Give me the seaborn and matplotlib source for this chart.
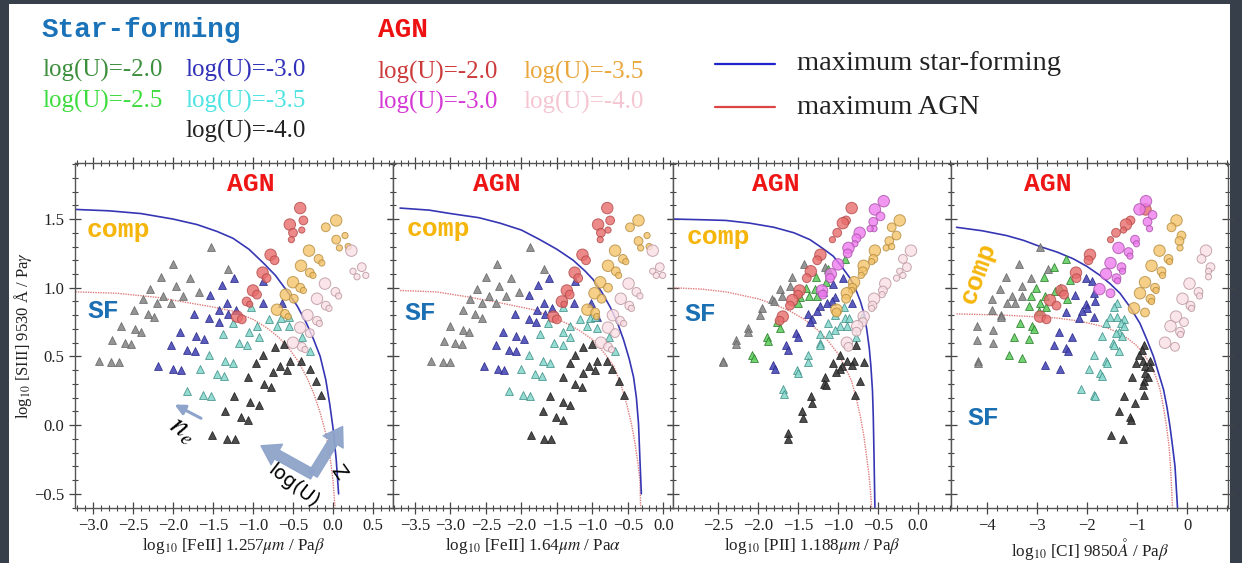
import matplotlib
matplotlib.use('Agg')
import matplotlib.pyplot as plt
import seaborn as sns
import pandas as pd
from matplotlib.patches import Rectangle
from matplotlib.lines import Line2D
from matplotlib.ticker import MultipleLocator

# ---------------- panel 1: [FeII] 1.257um / Pa beta ----------------
p1_grey_x = [-1.53, -2.00, -1.31, -2.15, -1.79, -2.29, -1.96, -2.37, -2.12, -1.87, -1.68, -2.20, -2.03,
             -2.49, -2.31, -2.24, -2.65, -2.48, -2.40, -2.76, -2.60, -2.52, -2.93, -2.78, -2.68]
p1_grey_y = [1.30, 1.17, 1.14, 1.08, 1.07, 0.99, 1.01, 0.92, 0.94, 0.94, 0.97, 0.89, 0.89,
             0.84, 0.81, 0.79, 0.72, 0.70, 0.68, 0.62, 0.60, 0.59, 0.47, 0.46, 0.46]
p1_blue_x = [-1.24, -1.39, -0.87, -1.54, -1.33, -1.42, -1.21, -1.31, -0.88, -0.64, -1.74, -1.55, -1.43,
             -1.91, -1.71, -1.61, -2.02, -1.83, -1.73, -2.19, -2.00, -1.90]
p1_blue_y = [1.07, 1.02, 1.05, 0.95, 0.89, 0.84, 0.84, 0.81, 0.89, 0.89, 0.81, 0.78, 0.75,
             0.68, 0.65, 0.63, 0.58, 0.55, 0.54, 0.43, 0.41, 0.40]
p1_cyan_x = [-1.03, -0.80, -0.65, -0.55, -0.95, -0.70, -0.55, -1.25, -1.05, -0.93, -1.37, -1.17, -1.07,
             -0.39, -1.55, -1.35, -1.25, -1.66, -1.45, -1.36, -1.82, -1.63, -1.53, -0.29]
p1_cyan_y = [0.86, 0.77, 0.78, 0.79, 0.72, 0.72, 0.72, 0.74, 0.68, 0.64, 0.66, 0.60, 0.58,
             0.64, 0.51, 0.47, 0.45, 0.41, 0.37, 0.36, 0.25, 0.22, 0.21, 0.54]
p1_black_x = [-0.61, -0.73, -0.88, -0.54, -0.40, -0.29, -0.66, -0.96, -0.75, -0.58, -1.06, -0.86, -0.77,
              -0.21, -0.15, -1.24, -1.04, -0.93, -1.35, -1.15, -1.06, -1.51, -1.32, -1.23]
p1_black_y = [0.59, 0.57, 0.51, 0.47, 0.47, 0.41, 0.43, 0.45, 0.39, 0.40, 0.35, 0.30, 0.28,
              0.32, 0.22, 0.21, 0.17, 0.15, 0.10, 0.06, 0.04, -0.07, -0.10, -0.10]
p1_red_x = [-0.41, -0.37, -0.54, -0.50, -0.39, -0.52, -0.78, -0.73, -0.88, -0.83, -1.00, -0.95, -1.08, -1.04, -1.20, -1.14]
p1_red_y = [1.58, 1.49, 1.46, 1.40, 1.42, 1.35, 1.24, 1.20, 1.11, 1.07, 0.98, 0.95, 0.90, 0.88, 0.79, 0.77]
p1_red_s = [3, 2, 3, 2, 1, 1, 3, 2, 3, 2, 3, 2, 2, 1, 3, 2]
p1_orange_x = [0.04, -0.09, 0.04, 0.15, 0.08, 0.19, -0.30, -0.18, -0.14, -0.40, -0.29, -0.25, -0.50, -0.41,
               -0.37, -0.59, -0.49, -0.70, -0.60, -0.56]
p1_orange_y = [1.49, 1.44, 1.35, 1.38, 1.29, 1.30, 1.27, 1.21, 1.18, 1.16, 1.11, 1.09, 1.04, 1.00,
               0.98, 0.95, 0.92, 0.84, 0.81, 0.79]
p1_orange_s = [3, 2, 2, 1, 1, 1, 3, 2, 1, 3, 2, 1, 3, 2, 1, 3, 2, 3, 2, 1]
p1_pink_x = [0.23, 0.36, 0.25, 0.30, 0.41, -0.10, 0.03, 0.07, -0.20, -0.09, -0.05, -0.32, -0.20, -0.17,
             -0.41, -0.29, -0.50, -0.39, -0.35]
p1_pink_y = [1.27, 1.15, 1.12, 1.08, 1.09, 1.03, 0.97, 0.94, 0.92, 0.87, 0.85, 0.80, 0.76, 0.74,
             0.71, 0.67, 0.60, 0.57, 0.55]
p1_pink_s = [3, 2, 1, 1, 1, 3, 2, 1, 3, 2, 1, 3, 2, 1, 3, 2, 3, 2, 1]
p1_sf_x = [-3.22, -2.8, -2.4, -2.0, -1.7, -1.45, -1.25, -1.05, -0.87, -0.72, -0.58, -0.45, -0.33, -0.24,
           -0.16, -0.09, -0.04, 0.0, 0.04, 0.07]
p1_sf_y = [1.57, 1.56, 1.54, 1.50, 1.46, 1.41, 1.36, 1.28, 1.18, 1.09, 0.98, 0.87, 0.74, 0.62,
           0.50, 0.33, 0.15, -0.02, -0.25, -0.50]
p1_agn_x = [-3.22, -2.7, -2.2, -1.8, -1.5, -1.25, -1.0, -0.83, -0.68, -0.54, -0.43, -0.33, -0.24, -0.16,
            -0.09, -0.04, 0.0, 0.025]
p1_agn_y = [0.97, 0.96, 0.93, 0.89, 0.86, 0.83, 0.77, 0.71, 0.64, 0.55, 0.46, 0.35, 0.23, 0.09,
            -0.06, -0.22, -0.40, -0.60]

# ---------------- panel 2: [FeII] 1.64um / Pa alpha ----------------
p2_grey_x = [-1.88, -2.35, -1.68, -2.50, -2.15, -2.63, -2.32, -2.72, -2.46, -2.22, -2.04, -2.55, -2.36,
             -2.83, -2.65, -2.56, -3.00, -2.83, -2.74, -3.09, -2.93, -2.84, -3.27, -3.10, -3.01]
p2_grey_y = [1.30, 1.17, 1.14, 1.08, 1.07, 0.99, 1.01, 0.92, 0.94, 0.94, 0.97, 0.89, 0.89,
             0.84, 0.81, 0.78, 0.72, 0.69, 0.68, 0.61, 0.60, 0.59, 0.47, 0.46, 0.46]
p2_blue_x = [-1.61, -1.76, -1.24, -1.89, -1.68, -1.78, -1.57, -1.67, -1.26, -1.02, -2.09, -1.89, -1.79,
             -2.26, -2.07, -1.96, -2.36, -2.18, -2.08, -2.53, -2.33, -2.24, -0.94]
p2_blue_y = [1.07, 1.02, 1.05, 0.95, 0.89, 0.84, 0.85, 0.81, 0.89, 0.89, 0.81, 0.77, 0.75,
             0.68, 0.65, 0.63, 0.58, 0.55, 0.54, 0.43, 0.41, 0.40, 0.79]
p2_cyan_x = [-1.41, -1.18, -1.04, -0.96, -1.32, -1.07, -0.93, -1.62, -1.41, -1.31, -1.74, -1.54, -1.42,
             -0.76, -1.90, -1.69, -1.60, -2.01, -1.81, -1.71, -2.17, -1.98, -1.88, -0.68]
p2_cyan_y = [0.86, 0.77, 0.78, 0.79, 0.72, 0.72, 0.71, 0.74, 0.68, 0.64, 0.66, 0.60, 0.58,
             0.64, 0.51, 0.47, 0.45, 0.41, 0.37, 0.36, 0.25, 0.22, 0.21, 0.54]
p2_black_x = [-1.00, -1.13, -1.25, -0.93, -0.79, -0.62, -1.05, -1.32, -1.13, -0.96, -0.72, -1.42, -1.24,
              -1.15, -0.55, -1.60, -1.41, -1.31, -1.70, -1.51, -1.42, -1.87, -1.68, -1.59]
p2_black_y = [0.59, 0.57, 0.51, 0.47, 0.47, 0.32, 0.43, 0.45, 0.38, 0.40, 0.41, 0.35, 0.30,
              0.28, 0.22, 0.21, 0.17, 0.15, 0.10, 0.06, 0.04, -0.07, -0.10, -0.10]
p2_red_x = [-0.79, -0.75, -0.92, -0.88, -0.78, -0.89, -1.14, -1.09, -1.25, -1.20, -1.36, -1.32, -1.43, -1.40, -1.55, -1.50]
p2_red_y = [1.58, 1.49, 1.46, 1.40, 1.42, 1.35, 1.24, 1.20, 1.11, 1.07, 0.98, 0.95, 0.90, 0.88, 0.79, 0.77]
p2_red_s = [3, 2, 3, 2, 1, 1, 3, 2, 3, 2, 3, 2, 3, 1, 3, 2]
p2_orange_x = [-0.35, -0.47, -0.23, -0.35, -0.32, -0.20, -0.68, -0.57, -0.53, -0.78, -0.67, -0.63, -0.89,
               -0.78, -0.97, -0.87, -1.07, -0.96, -0.94]
p2_orange_y = [1.49, 1.44, 1.38, 1.34, 1.29, 1.30, 1.27, 1.21, 1.19, 1.16, 1.12, 1.09, 1.04,
               1.00, 0.96, 0.92, 0.84, 0.82, 0.79]
p2_orange_s = [3, 2, 1, 2, 1, 1, 3, 2, 1, 3, 2, 1, 3, 2, 3, 2, 3, 2, 1]
p2_pink_x = [-0.15, -0.05, -0.15, -0.10, -0.01, -0.49, -0.38, -0.33, -0.60, -0.48, -0.45, -0.71, -0.61,
             -0.56, -0.78, -0.68, -0.88, -0.78, -0.73]
p2_pink_y = [1.27, 1.15, 1.12, 1.09, 1.09, 1.03, 0.97, 0.94, 0.92, 0.87, 0.85, 0.80, 0.76,
             0.74, 0.71, 0.67, 0.60, 0.57, 0.55]
p2_pink_s = [3, 2, 1, 1, 1, 3, 2, 1, 3, 2, 1, 3, 2, 1, 3, 2, 3, 2, 1]
p2_sf_x = [-3.71, -3.3, -3.0, -2.6, -2.3, -2.0, -1.74, -1.5, -1.27, -1.1, -0.99, -0.87, -0.75, -0.65,
           -0.56, -0.48, -0.42, -0.38, -0.35, -0.33, -0.31]
p2_sf_y = [1.58, 1.565, 1.54, 1.51, 1.47, 1.42, 1.35, 1.28, 1.20, 1.12, 1.06, 0.97, 0.86, 0.75,
           0.62, 0.48, 0.35, 0.20, 0.01, -0.25, -0.50]
p2_agn_x = [-3.71, -3.2, -2.77, -2.3, -1.83, -1.6, -1.36, -1.17, -0.99, -0.84, -0.70, -0.60, -0.52, -0.45,
            -0.40, -0.36, -0.33, -0.32]
p2_agn_y = [0.98, 0.97, 0.935, 0.89, 0.84, 0.795, 0.74, 0.685, 0.62, 0.53, 0.43, 0.30, 0.16, 0.01,
            -0.13, -0.27, -0.40, -0.60]

# ---------------- panel 3: [PII] 1.188um / Pa beta ----------------
p3_grey_x = [-1.43, -1.58, -1.73, -1.60, -1.83, -1.70, -1.80, -1.95, -1.98, -2.13, -2.12, -2.27, -2.27,
             -2.44, -2.43, -1.16]
p3_grey_y = [1.17, 1.08, 0.99, 1.01, 0.92, 0.94, 0.90, 0.85, 0.80, 0.71, 0.68, 0.62, 0.59, 0.47, 0.46, 1.15]
p3_green_x = [-1.28, -1.40, -1.29, -1.15, -1.48, -1.36, -1.26, -1.50, -1.76, -1.73, -1.89, -1.87, -2.07,
              -2.05, -0.91, -1.12]
p3_green_y = [1.08, 1.00, 0.99, 1.04, 0.93, 0.94, 0.94, 0.89, 0.75, 0.71, 0.64, 0.61, 0.51, 0.49, 1.21, 1.14]
p3_blue_x = [-0.94, -1.06, -1.19, -1.04, -1.08, -1.14, -1.22, -1.26, -1.37, -1.33, -1.35, -0.83, -1.53,
             -1.50, -1.65, -1.63, -1.81, -1.79]
p3_blue_y = [1.07, 1.03, 0.97, 0.93, 0.90, 0.89, 0.87, 0.83, 0.81, 0.77, 0.75, 0.89, 0.67,
             0.64, 0.58, 0.55, 0.44, 0.41]
p3_cyan_x = [-0.93, -1.04, -1.12, -0.91, -0.86, -0.98, -0.89, -1.04, -1.11, -1.23, -1.22, -1.23, -1.37,
             -1.38, -1.51, -1.50, -1.69, -1.68, -0.77, -0.70]
p3_cyan_y = [0.86, 0.80, 0.74, 0.78, 0.78, 0.72, 0.72, 0.69, 0.66, 0.66, 0.60, 0.58, 0.51,
             0.46, 0.40, 0.38, 0.26, 0.23, 0.64, 0.79]
p3_black_x = [-0.78, -0.98, -0.89, -0.80, -0.68, -1.06, -0.95, -0.98, -1.03, -1.16, -1.18, -1.15, -0.72,
              -0.79, -1.34, -1.33, -1.45, -1.44, -1.63, -1.62, -0.83]
p3_black_y = [0.58, 0.51, 0.47, 0.47, 0.46, 0.45, 0.43, 0.41, 0.39, 0.35, 0.30, 0.29, 0.32,
              0.22, 0.21, 0.16, 0.10, 0.05, -0.06, -0.10, 0.44]
p3_red_x = [-0.83, -0.90, -0.94, -1.01, -1.07, -1.22, -1.26, -1.34, -1.39, -1.48, -1.50, -1.57, -1.60, -1.69, -1.73]
p3_red_y = [1.58, 1.49, 1.47, 1.40, 1.35, 1.24, 1.20, 1.12, 1.07, 0.98, 0.95, 0.91, 0.87, 0.79, 0.76]
p3_red_s = [3, 2, 3, 2, 1, 3, 2, 3, 2, 3, 2, 3, 2, 3, 2]
p3_mag_x = [-0.43, -0.54, -0.47, -0.56, -0.55, -0.60, -0.73, -0.77, -0.79, -0.87, -0.88, -1.00, -1.09,
            -1.10, -1.20, -1.19]
p3_mag_y = [1.63, 1.57, 1.52, 1.48, 1.43, 1.43, 1.40, 1.36, 1.32, 1.29, 1.25, 1.17, 1.10, 1.07, 0.98, 0.95]
p3_mag_s = [3, 3, 2, 2, 1, 1, 3, 2, 1, 3, 2, 3, 3, 2, 3, 2]
p3_orange_x = [-0.23, -0.33, -0.27, -0.36, -0.40, -0.33, -0.54, -0.56, -0.58, -0.68, -0.69, -0.71, -0.80,
               -0.82, -0.83, -0.89, -0.90, -1.02, -1.02]
p3_orange_y = [1.49, 1.44, 1.38, 1.34, 1.29, 1.30, 1.27, 1.21, 1.19, 1.16, 1.12, 1.09, 1.04,
               1.00, 0.98, 0.96, 0.92, 0.84, 0.82]
p3_orange_s = [3, 2, 2, 2, 1, 1, 3, 2, 1, 3, 2, 1, 3, 2, 1, 3, 2, 3, 2]
p3_pink_x = [-0.09, -0.19, -0.14, -0.23, -0.19, -0.27, -0.41, -0.44, -0.45, -0.55, -0.57, -0.58, -0.68,
             -0.69, -0.76, -0.77, -0.89, -0.87]
p3_pink_y = [1.27, 1.21, 1.15, 1.12, 1.09, 1.07, 1.03, 0.98, 0.95, 0.92, 0.87, 0.85, 0.79,
             0.75, 0.72, 0.68, 0.60, 0.57]
p3_pink_s = [3, 2, 2, 1, 1, 1, 3, 2, 1, 3, 2, 1, 3, 2, 3, 2, 3, 2]
p3_sf_x = [-3.06, -2.7, -2.4, -2.1, -1.8, -1.55, -1.35, -1.2, -1.06, -0.95, -0.85, -0.78, -0.72, -0.67,
           -0.64, -0.61, -0.59, -0.57, -0.56, -0.55, -0.54]
p3_sf_y = [1.50, 1.495, 1.49, 1.47, 1.44, 1.40, 1.35, 1.29, 1.23, 1.15, 1.07, 0.99, 0.90, 0.80,
           0.69, 0.56, 0.43, 0.25, 0.06, -0.25, -0.60]
p3_agn_x = [-3.06, -2.7, -2.4, -2.0, -1.8, -1.6, -1.42, -1.25, -1.12, -1.0, -0.91, -0.83, -0.77, -0.72,
            -0.68, -0.65, -0.62, -0.60, -0.58]
p3_agn_y = [1.00, 0.99, 0.97, 0.92, 0.88, 0.83, 0.77, 0.69, 0.61, 0.52, 0.42, 0.32, 0.19, 0.06,
            -0.07, -0.20, -0.33, -0.45, -0.60]

# ---------------- panel 4: [CI] 9850A / Pa beta ----------------
p4_grey_x = [-2.94, -3.37, -2.79, -3.62, -3.13, -3.74, -3.31, -3.91, -3.51, -3.31, -3.61, -3.44, -3.91,
             -3.73, -4.21, -3.89, -4.21, -3.89, -4.19, -4.19, -3.73]
p4_grey_y = [1.30, 1.17, 1.14, 1.08, 1.07, 0.99, 1.01, 0.92, 0.94, 0.94, 0.89, 0.89, 0.84,
             0.80, 0.72, 0.69, 0.62, 0.60, 0.47, 0.45, 0.79]
p4_green_x = [-2.42, -2.67, -2.86, -2.34, -2.54, -3.02, -2.64, -3.13, -2.84, -2.41, -2.94, -3.17, -2.82,
              -2.97, -3.35, -3.11, -3.07, -3.47, -3.17, -3.57, -3.31]
p4_green_y = [1.21, 1.15, 1.08, 1.06, 1.00, 1.00, 0.98, 0.94, 0.94, 0.92, 0.89, 0.87, 0.86,
              0.83, 0.74, 0.72, 0.70, 0.64, 0.63, 0.51, 0.49]
p4_blue_x = [-2.02, -1.91, -2.24, -1.87, -1.84, -2.02, -2.01, -2.11, -1.87, -2.42, -2.17, -2.57, -2.31,
             -2.67, -2.42, -2.39, -2.84, -2.55]
p4_blue_y = [1.07, 1.05, 0.95, 0.96, 0.90, 0.88, 0.85, 0.83, 0.79, 0.82, 0.78, 0.68, 0.64,
             0.58, 0.56, 0.54, 0.44, 0.41]
p4_cyan_x = [-1.41, -1.46, -1.55, -1.41, -1.27, -1.62, -1.33, -1.26, -1.37, -1.42, -1.31, -1.71, -1.49,
             -1.46, -1.37, -1.87, -1.62, -1.61, -1.97, -1.74, -1.71, -2.13, -1.87, -1.85]
p4_cyan_y = [0.89, 0.86, 0.79, 0.79, 0.77, 0.74, 0.74, 0.72, 0.68, 0.67, 0.65, 0.65, 0.60,
             0.58, 0.54, 0.51, 0.47, 0.45, 0.41, 0.38, 0.36, 0.26, 0.22, 0.21]
p4_black_x = [-0.87, -0.91, -0.97, -0.89, -0.74, -1.02, -0.84, -0.75, -0.84, -0.79, -0.87, -1.11, -0.89,
              -0.87, -1.27, -1.04, -1.37, -1.14, -1.13, -1.53, -1.29]
p4_black_y = [0.58, 0.55, 0.51, 0.47, 0.47, 0.45, 0.43, 0.42, 0.38, 0.35, 0.32, 0.35, 0.29,
              0.22, 0.21, 0.16, 0.10, 0.06, 0.04, -0.07, -0.10]
p4_red_x = [-0.83, -1.13, -1.22, -1.27, -1.42, -1.53, -1.94, -1.97, -2.22, -2.21, -2.51, -2.46, -2.74, -2.61, -2.94, -2.81]
p4_red_y = [1.57, 1.49, 1.46, 1.42, 1.40, 1.35, 1.24, 1.20, 1.11, 1.07, 0.98, 0.95, 0.91, 0.87, 0.79, 0.77]
p4_red_s = [3, 2, 3, 1, 2, 1, 3, 2, 3, 2, 3, 2, 3, 2, 3, 2]
p4_mag_x = [-0.82, -0.95, -0.69, -0.79, -0.75, -1.04, -1.01, -1.37, -1.17, -1.14, -1.53, -1.31, -1.29,
            -1.62, -1.41, -1.39, -1.75, -1.53]
p4_mag_y = [1.63, 1.57, 1.53, 1.48, 1.43, 1.35, 1.32, 1.29, 1.26, 1.23, 1.18, 1.15, 1.12,
            1.10, 1.07, 1.05, 0.99, 0.96]
p4_mag_s = [3, 3, 2, 2, 1, 2, 1, 3, 2, 1, 3, 2, 1, 3, 2, 1, 3, 2]
p4_orange_x = [-0.21, -0.31, -0.11, -0.15, -0.14, -0.55, -0.37, -0.35, -0.71, -0.51, -0.49, -0.84, -0.64,
               -0.62, -0.94, -0.73, -0.71, -1.06, -0.84]
p4_orange_y = [1.49, 1.44, 1.38, 1.34, 1.29, 1.27, 1.21, 1.19, 1.16, 1.12, 1.09, 1.04, 1.00,
               0.98, 0.96, 0.92, 0.90, 0.85, 0.82]
p4_orange_s = [3, 2, 2, 2, 1, 3, 2, 1, 3, 2, 1, 3, 2, 1, 3, 2, 1, 3, 2]
p4_pink_x = [0.38, 0.29, 0.47, 0.43, 0.43, 0.05, 0.23, 0.25, -0.09, 0.07, 0.09, -0.22, -0.06, -0.33,
             -0.14, -0.13, -0.44, -0.24]
p4_pink_y = [1.27, 1.21, 1.15, 1.12, 1.08, 1.03, 0.97, 0.94, 0.92, 0.87, 0.85, 0.79, 0.75, 0.72,
             0.68, 0.66, 0.60, 0.57]
p4_pink_s = [3, 2, 2, 1, 1, 3, 2, 1, 3, 2, 1, 3, 2, 3, 2, 1, 3, 2]
p4_sf_x = [-4.61, -4.1, -3.61, -3.27, -2.94, -2.6, -2.27, -2.0, -1.74, -1.54, -1.34, -1.14, -0.94, -0.80,
           -0.67, -0.57, -0.47, -0.40, -0.34, -0.29, -0.24, -0.19]
p4_sf_y = [1.44, 1.415, 1.38, 1.345, 1.30, 1.26, 1.21, 1.155, 1.09, 1.03, 0.96, 0.86, 0.74, 0.62,
           0.50, 0.38, 0.26, 0.13, -0.01, -0.15, -0.30, -0.60]
p4_agn_x = [-4.61, -3.61, -2.61, -2.2, -1.94, -1.65, -1.41, -1.2, -1.01, -0.87, -0.74, -0.63, -0.54, -0.47,
            -0.41, -0.36, -0.33, -0.29]
p4_agn_y = [0.81, 0.80, 0.78, 0.76, 0.74, 0.715, 0.68, 0.635, 0.58, 0.52, 0.45, 0.36, 0.26, 0.13,
            -0.01, -0.15, -0.30, -0.60]

x_labels = [r'log$_{10}$ [FeII] 1.257$\mu m$ / Pa$\beta$',
            r'log$_{10}$ [FeII] 1.64$\mu m$ / Pa$\alpha$',
            r'log$_{10}$ [PII] 1.188$\mu m$ / Pa$\beta$',
            r'log$_{10}$ [CI] 9850$\AA$ / Pa$\beta$']
y_label = r'log$_{10}$ [SIII] 9530 Å / Pa$\gamma$'
x_limits = [(-3.225, 0.75), (-3.81, 0.136), (-3.06, 0.41), (-4.72, 0.82)]
x_ticks = [[-3.0, -2.5, -2.0, -1.5, -1.0, -0.5, 0.0, 0.5],
           [-3.5, -3.0, -2.5, -2.0, -1.5, -1.0, -0.5, 0.0],
           [-2.5, -2.0, -1.5, -1.0, -0.5, 0.0],
           [-4, -3, -2, -1, 0]]

# ---------------- build a tidy table ----------------
rows = []
def add(panel, group, xs, ys, sz=None):
    for i, (a, b) in enumerate(zip(xs, ys)):
        rows.append(dict(panel=panel, group=group, x=a, y=b, size=sz[i] if sz else 0))

add(1, 'grey', p1_grey_x, p1_grey_y); add(1, 'blue', p1_blue_x, p1_blue_y)
add(1, 'cyan', p1_cyan_x, p1_cyan_y); add(1, 'black', p1_black_x, p1_black_y)
add(1, 'red', p1_red_x, p1_red_y, p1_red_s); add(1, 'orange', p1_orange_x, p1_orange_y, p1_orange_s)
add(1, 'pink', p1_pink_x, p1_pink_y, p1_pink_s)
add(2, 'grey', p2_grey_x, p2_grey_y); add(2, 'blue', p2_blue_x, p2_blue_y)
add(2, 'cyan', p2_cyan_x, p2_cyan_y); add(2, 'black', p2_black_x, p2_black_y)
add(2, 'red', p2_red_x, p2_red_y, p2_red_s); add(2, 'orange', p2_orange_x, p2_orange_y, p2_orange_s)
add(2, 'pink', p2_pink_x, p2_pink_y, p2_pink_s)
add(3, 'grey', p3_grey_x, p3_grey_y); add(3, 'green', p3_green_x, p3_green_y)
add(3, 'blue', p3_blue_x, p3_blue_y); add(3, 'cyan', p3_cyan_x, p3_cyan_y)
add(3, 'black', p3_black_x, p3_black_y)
add(3, 'red', p3_red_x, p3_red_y, p3_red_s); add(3, 'mag', p3_mag_x, p3_mag_y, p3_mag_s)
add(3, 'orange', p3_orange_x, p3_orange_y, p3_orange_s); add(3, 'pink', p3_pink_x, p3_pink_y, p3_pink_s)
add(4, 'grey', p4_grey_x, p4_grey_y); add(4, 'green', p4_green_x, p4_green_y)
add(4, 'blue', p4_blue_x, p4_blue_y); add(4, 'cyan', p4_cyan_x, p4_cyan_y)
add(4, 'black', p4_black_x, p4_black_y)
add(4, 'red', p4_red_x, p4_red_y, p4_red_s); add(4, 'mag', p4_mag_x, p4_mag_y, p4_mag_s)
add(4, 'orange', p4_orange_x, p4_orange_y, p4_orange_s); add(4, 'pink', p4_pink_x, p4_pink_y, p4_pink_s)
df = pd.DataFrame(rows)

curves = {1: (p1_sf_x, p1_sf_y, p1_agn_x, p1_agn_y), 2: (p2_sf_x, p2_sf_y, p2_agn_x, p2_agn_y),
          3: (p3_sf_x, p3_sf_y, p3_agn_x, p3_agn_y), 4: (p4_sf_x, p4_sf_y, p4_agn_x, p4_agn_y)}

tri_style = {'grey': ('#8a8a8a', '#666666'), 'green': ('#63cf63', '#2a7a2a'),
             'blue': ('#4a4ab8', '#2a2a8a'), 'cyan': ('#8ad9cf', '#3f8f87'),
             'black': ('#3a3a3a', '#1e1e1e')}
circ_style = {'red': ('#e86c6c', '#b24848'), 'mag': ('#ee7cee', '#a850a8'),
              'orange': ('#f4c36a', '#b38a3c'), 'pink': ('#f9dfe5', '#b9939c')}

# ---------------- figure ----------------
sns.set_theme(style='white')
plt.rcParams['font.family'] = ['Liberation Serif', 'DejaVu Serif']
plt.rcParams['mathtext.fontset'] = 'stix'

W, H = 1242, 563
fig = plt.figure(figsize=(W / 100, H / 100), dpi=100)
fig.patch.set_facecolor('#363f4a')
fig.add_artist(Rectangle((9 / W, 0), (1230 - 9) / W, (H - 4) / H, transform=fig.transFigure,
                         facecolor='white', edgecolor='none', zorder=-10))

def fxy(px, py):
    return px / W, 1 - py / H

edges = [(75, 393), (393, 673), (673, 951), (951, 1228)]
top, bot = 163, 508
axes = []
for i, (l, r) in enumerate(edges):
    ax = fig.add_axes([l / W, 1 - bot / H, (r - l) / W, (bot - top) / H])
    ax.set_facecolor('white')
    p = i + 1
    sfx, sfy, agx, agy = curves[p]
    sns.lineplot(x=agx, y=agy, sort=False, estimator=None, color='#e07b7b', lw=1.0,
                 linestyle=(0, (1, 0.8)), ax=ax, zorder=1)
    sns.lineplot(x=sfx, y=sfy, sort=False, estimator=None, color='#3636b4', lw=1.2, ax=ax, zorder=1.5)
    sub = df[df.panel == p]
    for g, (fc, ec) in tri_style.items():
        d = sub[sub.group == g]
        if len(d):
            sns.scatterplot(data=d, x='x', y='y', marker='^', s=32, color=fc, edgecolor=ec,
                            linewidth=0.6, alpha=0.9, ax=ax, legend=False, zorder=3)
    for g, (fc, ec) in circ_style.items():
        d = sub[sub.group == g]
        if len(d):
            sns.scatterplot(data=d, x='x', y='y', size='size', sizes={1: 20, 2: 40, 3: 68},
                            color=fc, edgecolor=ec, linewidth=0.7, alpha=0.8, ax=ax,
                            legend=False, zorder=4)
    ax.set_xlim(*x_limits[i])
    ax.set_ylim(-0.603, 1.908)
    ax.set_xticks(x_ticks[i])
    ax.xaxis.set_minor_locator(MultipleLocator(0.2 if p == 4 else 0.1))
    ax.set_yticks([-0.5, 0.0, 0.5, 1.0, 1.5])
    ax.yaxis.set_minor_locator(MultipleLocator(0.1))
    ax.tick_params(which='both', direction='inout', top=True, right=True, bottom=True, left=True,
                   color='#444444', labelsize=12, labelcolor='#222222')
    ax.tick_params(which='major', length=8, width=0.9)
    ax.tick_params(which='minor', length=4, width=0.8)
    if p > 1:
        ax.tick_params(labelleft=False)
    for s in ax.spines.values():
        s.set_color('#555555')
        s.set_linewidth(1.0)
    ax.set_xlabel(x_labels[i], fontsize=12.3, color='#222222', labelpad=1)
    ax.set_ylabel('')
    axes.append(ax)

axes[0].set_ylabel(y_label, fontsize=12, color='#222222', labelpad=0)

# region labels
mono = dict(family='Liberation Mono', weight='bold', ha='center', va='center')
for (ax_px, ay_px) in [(251, 184), (497, 184), (776, 184), (1048, 184)]:
    fig.text(*fxy(ax_px, ay_px), 'AGN', color='#ee1515', fontsize=19, **mono)
for (cx, cy) in [(118, 230), (438, 229), (718, 237)]:
    fig.text(*fxy(cx, cy), 'comp', color='#f5b50a', fontsize=19, **mono)
fig.text(*fxy(978, 273), 'comp', color='#f5b50a', fontsize=19, rotation=70, **mono)
for (sx, sy) in [(103, 311), (420, 313), (700, 314), (983, 418)]:
    fig.text(*fxy(sx, sy), 'SF', color='#1b6fb3', fontsize=19, **mono)

# arrows in first panel
a1 = axes[0]
arrow_col = '#8ea4ca'
a1.annotate('', xy=(-1.98, 0.15), xytext=(-1.65, 0.05),
            arrowprops=dict(arrowstyle='-|>,head_length=0.5,head_width=0.25', color=arrow_col,
                            lw=2.2, shrinkA=0, shrinkB=0), zorder=5)
a1.text(-1.88, -0.04, '$n_e$', fontsize=22, rotation=-35, ha='center', va='center', color='black')
big = dict(arrowstyle='simple,head_length=1.0,head_width=1.3,tail_width=0.55', color=arrow_col,
           shrinkA=0, shrinkB=0, mutation_scale=13, alpha=0.95)
a1.annotate('', xy=(-0.90, -0.15), xytext=(-0.25, -0.36), arrowprops=big, zorder=5)
a1.annotate('', xy=(0.12, -0.01), xytext=(-0.25, -0.36), arrowprops=big, zorder=5)
a1.text(-0.50, -0.44, 'log(U)', fontsize=14, rotation=-38, ha='center', va='center',
        family='DejaVu Sans', color='black')
a1.text(0.07, -0.34, 'Z', fontsize=14, rotation=-55, ha='center', va='center',
        family='DejaVu Sans', color='black')

# header legend
fig.text(*fxy(42, 30), 'Star-forming', color='#1a72b8', fontsize=20, family='Liberation Mono',
         weight='bold', va='center')
fig.text(*fxy(378, 30), 'AGN', color='#ee1111', fontsize=20, family='Liberation Mono',
         weight='bold', va='center')
leg = [(42, 70, 'log(U)=-2.0', '#3d8f3d'), (42, 101, 'log(U)=-2.5', '#3fdc3f'),
       (185, 70, 'log(U)=-3.0', '#3030b8'), (185, 101, 'log(U)=-3.5', '#4fe3e3'),
       (185, 131, 'log(U)=-4.0', '#222222'),
       (377, 72, 'log(U)=-2.0', '#cc3a3a'), (523, 72, 'log(U)=-3.5', '#e9a73c'),
       (377, 102, 'log(U)=-3.0', '#d43ad4'), (523, 102, 'log(U)=-4.0', '#f5c6d2')]
for lx, ly, t, c in leg:
    fig.text(*fxy(lx, ly), t, color=c, fontsize=18, va='center')

for ly, c, t in [(64, '#2222cc', 'maximum star-forming'), (107, '#dd4444', 'maximum AGN')]:
    x0, y0 = fxy(715, ly)
    x1, _ = fxy(775, ly)
    fig.add_artist(Line2D([x0, x1], [y0, y0], color=c, lw=1.6, transform=fig.transFigure))
    fig.text(*fxy(797, ly), t, color='#222222', fontsize=20.5, va='center')

fig.savefig('out.png', dpi=100, facecolor=fig.get_facecolor())
